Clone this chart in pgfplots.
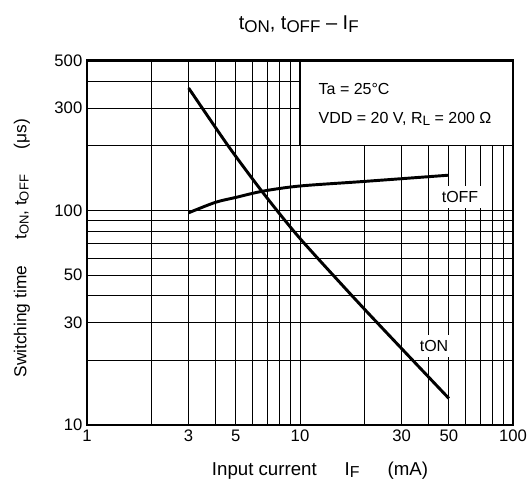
\documentclass[border=0pt]{standalone}
\usepackage{fontspec}
\setmainfont{Liberation Sans}
\usepackage{pgfplots}
\pgfplotsset{compat=1.18}

% lowered, smaller letters used as subscripts
\newcommand{\lo}[1]{\raisebox{-0.15em}{\scalebox{0.85}{#1}}}
\newcommand{\los}[1]{\raisebox{-0.12em}{\scalebox{0.75}{#1}}}

\begin{document}
\begin{tikzpicture}
\path[use as bounding box] (-65.25pt,-55.5pt) rectangle (330.75pt,318.75pt);
\begin{axis}[
  at={(0,0)}, anchor=south west,
  scale only axis,
  width=319.5pt, height=273.4pt,
  xmode=log, ymode=log,
  xmin=1, xmax=100, ymin=10, ymax=500,
  xtick={1,3,5,10,30,50,100},
  xticklabels={1,3,5,10,30,50,100},
  minor xtick={2,4,6,7,8,9,20,40,60,70,80,90},
  ytick={10,30,50,100,300,500},
  yticklabels={10,30,50,100,300,500},
  minor ytick={20,40,60,70,80,90,200,400},
  grid=both,
  major grid style={black, line width=0.7pt},
  minor grid style={black, line width=0.7pt},
  tick style={draw=none},
  axis line style={line width=1.6pt},
  tick label style={font=\fontsize{12.5}{12.5}\selectfont},
  /pgf/number format/assume math mode=true,
  clip=false,
]
% tON
\addplot[black, line width=2.2pt, smooth, tension=0.4] coordinates {
  (3,372) (4.6,200) (6.7,121) (10,74) (20,34.8) (50,13.3)
};
% tOFF
\addplot[black, line width=2.2pt, smooth, tension=0.5] coordinates {
  (3,97.5) (4,109) (5,115) (6.7,123) (10,130) (20,136.5) (50,146)
};

% condition box
\draw[fill=white, line width=0.8pt] (axis cs:10,200) rectangle (axis cs:100,500);
\draw[line width=1.6pt] (axis cs:10,500) -- (axis cs:100,500) -- (axis cs:100,200);
\node[anchor=base west, inner sep=0pt, font=\fontsize{12}{12}\selectfont] at (axis cs:12.2,348) {Ta = 25°C};
\node[anchor=base west, inner sep=0pt, font=\fontsize{12}{12}\selectfont] at (axis cs:12.2,255) {VDD = 20 V, R\lo{L} = 200 Ω};

% curve labels
\node[fill=white, inner xsep=3pt, inner ysep=4pt, font=\fontsize{12}{12}\selectfont] at (axis cs:56.4,115) {tOFF};
\node[fill=white, inner xsep=3pt, inner ysep=4pt, font=\fontsize{12}{12}\selectfont] at (axis cs:42.6,23.3) {tON};

% anchors for the outer labels
\coordinate (tl) at (rel axis cs:0.497,1);
\coordinate (xl) at (rel axis cs:0.547,0);
\coordinate (yl) at (rel axis cs:0,0.485);
\end{axis}
\node[font=\fontsize{15}{15}\selectfont] at ([yshift=27pt]tl)
  {t\lo{ON}, t\lo{OFF} – I\lo{F}};
\node[font=\fontsize{14}{14}\selectfont] at ([yshift=-34pt]xl)
  {Input current\hspace{1.5em}I\lo{F}\hspace{1.5em}(mA)};
\node[rotate=90, font=\fontsize{13}{13}\selectfont] at ([xshift=-48.75pt]yl)
  {Switching time\hspace{1.5em}t\los{ON}, t\los{OFF}\hspace{1.5em}(μs)};
\end{tikzpicture}
\end{document}
